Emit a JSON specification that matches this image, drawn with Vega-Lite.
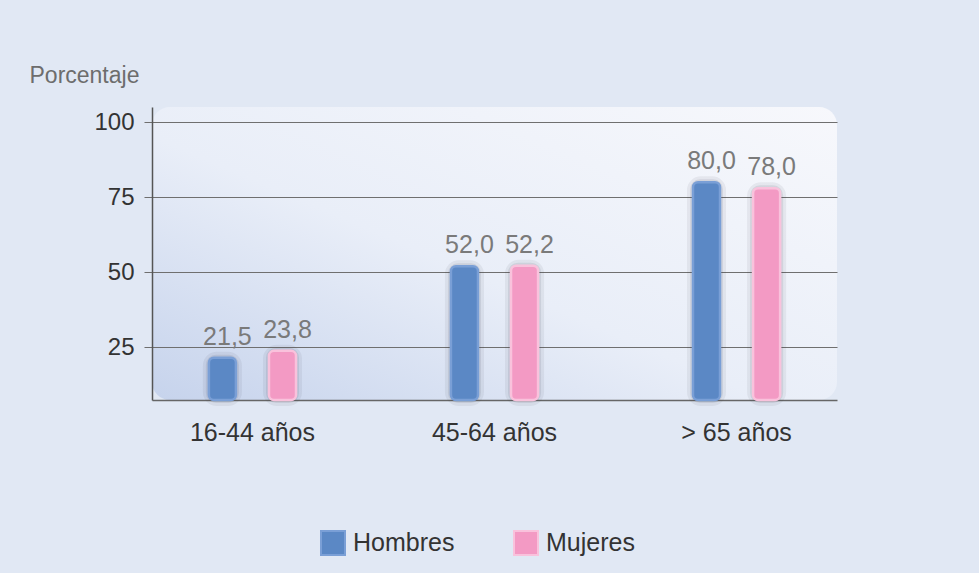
{
  "$schema": "https://vega.github.io/schema/vega-lite/v6.json",
  "width": 685,
  "height": 293,
  "autosize": "none",
  "padding": {"left": 152, "top": 107, "right": 142, "bottom": 173},
  "background": "#e1e8f4",
  "config": {
    "locale": {"number": {"decimal": ",", "thousands": ".", "grouping": [3], "currency": ["", " €"]}},
    "font": "Liberation Sans",
    "view": {
      "stroke": null,
      "cornerRadius": 18,
      "fill": {
        "gradient": "linear",
        "x1": 0, "y1": 1, "x2": 1, "y2": 0,
        "stops": [
          {"offset": 0, "color": "#c6d3ec"},
          {"offset": 0.45, "color": "#e9eef8"},
          {"offset": 1, "color": "#f7f8fc"}
        ]
      }
    }
  },
  "data": {
    "values": [
      {"grupo": "16-44 años", "sexo": "Hombres", "valor": 21.5},
      {"grupo": "16-44 años", "sexo": "Mujeres", "valor": 23.8},
      {"grupo": "45-64 años", "sexo": "Hombres", "valor": 52.0},
      {"grupo": "45-64 años", "sexo": "Mujeres", "valor": 52.2},
      {"grupo": "> 65 años", "sexo": "Hombres", "valor": 80.0},
      {"grupo": "> 65 años", "sexo": "Mujeres", "valor": 78.0}
    ]
  },
  "encoding": {
    "x": {
      "field": "grupo",
      "type": "nominal",
      "sort": ["16-44 años", "45-64 años", "> 65 años"],
      "scale": {"paddingInner": 0.64, "paddingOuter": 0.235},
      "axis": {
        "title": null,
        "labelAngle": 0,
        "ticks": false,
        "labelPadding": 20,
        "labelFontSize": 25,
        "labelColor": "#333333",
        "domainColor": "#666666",
        "domainWidth": 1.5,
        "grid": false
      }
    },
    "xOffset": {
      "field": "sexo",
      "type": "nominal",
      "sort": ["Hombres", "Mujeres"],
      "scale": {"paddingInner": 0.55, "paddingOuter": 0}
    },
    "y": {
      "field": "valor",
      "type": "quantitative",
      "scale": {"domain": [7.4, 105.1], "zero": false, "nice": false},
      "axis": {
        "values": [25, 50, 75, 100],
        "title": "Porcentaje",
        "titleAngle": 0,
        "titleAlign": "left",
        "titleBaseline": "alphabetic",
        "titleX": -123,
        "titleY": -25,
        "titleFontSize": 23,
        "titleFontWeight": "normal",
        "titleColor": "#6d6d6d",
        "labelFontSize": 24,
        "labelColor": "#333333",
        "labelPadding": 10,
        "tickSize": 8,
        "tickColor": "#6f6f6f",
        "domainColor": "#555555",
        "domainWidth": 1.5,
        "grid": true,
        "gridColor": "#6f6f6f",
        "gridWidth": 1.2
      }
    },
    "y2": {"datum": 7.4}
  },
  "layer": [
    {
      "mark": {"type": "bar", "cornerRadius": 8, "fillOpacity": 0, "stroke": "#3a3f4a", "strokeOpacity": 0.07, "strokeWidth": 12}
    },
    {
      "mark": {"type": "bar", "cornerRadius": 7, "fillOpacity": 0, "stroke": "#3a3f4a", "strokeOpacity": 0.1, "strokeWidth": 6}
    },
    {
      "mark": {"type": "bar", "cornerRadius": 5, "strokeWidth": 2.5},
      "encoding": {
        "fill": {
          "field": "sexo",
          "type": "nominal",
          "sort": ["Hombres", "Mujeres"],
          "scale": {"domain": ["Hombres", "Mujeres"], "range": ["#5b88c5", "#f39ac4"]},
          "legend": {
            "orient": "none",
            "legendX": 168,
            "legendY": 423,
            "direction": "horizontal",
            "title": null,
            "symbolType": "square",
            "symbolSize": 576,
            "symbolStrokeWidth": 2,
            "labelFontSize": 25,
            "labelColor": "#333333",
            "labelOffset": 7,
            "columnPadding": 55
          }
        },
        "stroke": {
          "field": "sexo",
          "type": "nominal",
          "sort": ["Hombres", "Mujeres"],
          "scale": {"domain": ["Hombres", "Mujeres"], "range": ["#7a9fd6", "#f9c2dc"]}
        }
      }
    },
    {
      "mark": {"type": "text", "dy": -13, "dx": 5, "baseline": "alphabetic", "fontSize": 25, "color": "#7a7a7a"},
      "encoding": {
        "text": {"field": "valor", "type": "quantitative", "format": ".1f"}
      }
    }
  ]
}
